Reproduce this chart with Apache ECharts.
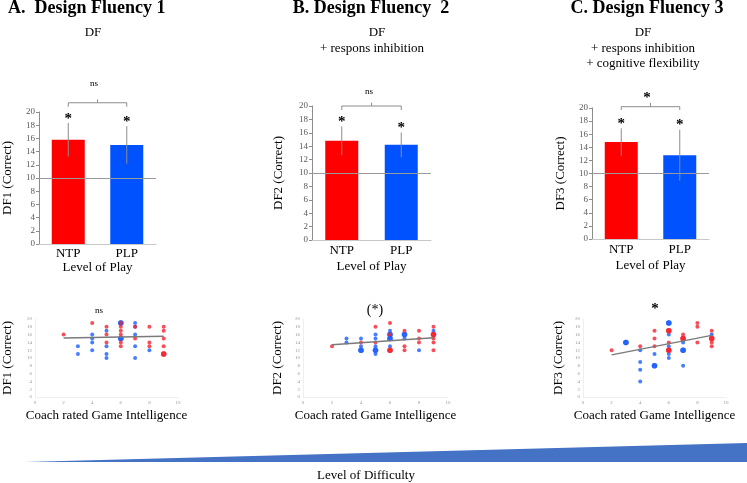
<!DOCTYPE html>
<html>
<head>
<meta charset="utf-8">
<script src="https://cdn.jsdelivr.net/npm/echarts@6/dist/echarts.min.js"></script>
<style>
  html, body { margin: 0; padding: 0; background: #fff; }
  #chart { width: 747px; height: 483px; }
</style>
</head>
<body>
<div id="chart"></div>
<script>
// --- data ---
const levels = ['NTP', 'PLP'];

const df1Mean = [15.8, 15.0];
const df1Sd = [2.55, 2.85];
const df2Mean = [14.8, 14.2];
const df2Sd = [2.15, 1.85];
const df3Mean = [14.8, 12.8];
const df3Sd = [2.1, 3.9];

// bracket: [level of bar, end tick, centre tick]
const df1Bracket = [21.4, 20.8, 21.9];
const df2Bracket = [20.0, 19.4, 20.5];
const df3Bracket = [20.2, 19.7, 20.8];

const yTicks = [0, 2, 4, 6, 8, 10, 12, 14, 16, 18, 20];
const xTicks = [0, 2, 4, 6, 8, 10];

// coach rated game intelligence vs score, red = NTP, blue = PLP
const df1Ntp = [[2,16],[4,19],[5,18],[5,16],[5,14],[6,19],[6,18],[6,17],[6,16],[6,14],[6,13],
  [7,18],[7,15],[8,18],[8,14],[8,13],[9,18],[9,17],[9,15],[9,13],[9,11],[9,11]];
const df1Plp = [[3,13],[3,11],[4,16],[4,15],[4,14],[4,12],[5,17],[5,13],[5,11],[5,10],[6,19],[6,19],
  [6,15],[6,15],[7,19],[7,18],[7,16],[7,13],[7,10],[8,12]];
const df2Ntp = [[2,13],[4,14],[5,18],[5,14],[6,19],[6,16],[6,12],[6,12],[7,17],[7,13],[7,12],
  [8,17],[8,15],[8,14],[9,18],[9,16],[9,16],[9,15],[9,14],[9,12]];
const df2Plp = [[3,15],[3,14],[4,15],[4,13],[4,12],[4,12],[5,16],[5,15],[5,13],[5,12],[5,12],[5,11],
  [6,17],[6,16],[6,16],[6,15],[6,15],[6,13],[7,16],[7,16],[7,15],[8,12],[9,17]];
const df3Ntp = [[2,12],[4,13],[5,17],[5,15],[5,13],[6,17],[6,17],[6,14],[6,12],[6,12],[7,16],[7,15],[7,15],
  [8,19],[8,18],[8,14],[9,17],[9,15],[9,15],[9,14],[9,13]];
const df3Plp = [[3,14],[3,14],[4,12],[4,9],[4,7],[4,4],[5,11],[5,8],[5,8],[6,19],[6,19],[6,16],[6,13],
  [6,12],[6,11],[6,10],[7,14],[7,12],[7,12],[7,8],[9,16]];

const df1Trend = [[2, 15.1], [9, 15.6]];
const df2Trend = [[2, 13.4], [9, 15.2]];
const df3Trend = [[2, 10.8], [9, 15.8]];

const difficulty = [[0, 0], [1, 1]];

// --- styles ---
const SERIF = '"Liberation Serif", "Times New Roman", serif';
const RED = '#ff0000';
const BLUE = '#0052ff';
const DOT_RED = '#f5222d';
const DOT_BLUE = '#1c5cff';

const chart = echarts.init(document.getElementById('chart'), null, { renderer: 'canvas' });

const grids = [
  { left: 38, top: 112, width: 118, height: 132 },
  { left: 312, top: 106, width: 119, height: 134 },
  { left: 592, top: 108, width: 117, height: 131 },
  { left: 34, top: 319, width: 144, height: 78 },
  { left: 303, top: 319, width: 145, height: 78 },
  { left: 583, top: 319, width: 143, height: 78 },
  { left: 25, top: 443, width: 722, height: 19 }
];

function barXAxis(gi, margin, nameGap) {
  return {
    type: 'category', gridIndex: gi, data: levels,
    axisLine: { lineStyle: { color: '#c8c8c8' } },
    axisTick: { show: false },
    axisLabel: { margin: margin, fontFamily: SERIF, fontSize: 13, color: '#000' },
    name: 'Level of Play', nameLocation: 'middle', nameGap: nameGap,
    nameTextStyle: { fontFamily: SERIF, fontSize: 13, color: '#000' }
  };
}

function barYAxis(gi, name, nameGap) {
  return {
    type: 'value', gridIndex: gi, min: 0, max: 20, interval: 2,
    axisLine: { show: true, lineStyle: { color: '#8c8c8c' } },
    axisTick: { show: true, length: 3, lineStyle: { color: '#8c8c8c' } },
    axisLabel: { margin: 4, fontFamily: SERIF, fontSize: 9, color: '#595959' },
    splitLine: { show: false },
    name: name, nameLocation: 'middle', nameGap: nameGap,
    nameTextStyle: { fontFamily: SERIF, fontSize: 13, color: '#000' }
  };
}

function scXAxis(gi) {
  return {
    type: 'value', gridIndex: gi, min: xTicks[0], max: xTicks[xTicks.length - 1], interval: 2,
    axisLine: { show: true, lineStyle: { color: '#efefef' } },
    axisTick: { show: false },
    axisLabel: { margin: 3, fontFamily: SERIF, fontSize: 5, color: '#999' },
    splitLine: { show: false },
    name: 'Coach rated Game Intelligence', nameLocation: 'middle', nameGap: 12,
    nameTextStyle: { fontFamily: SERIF, fontSize: 13, color: '#000' }
  };
}

function scYAxis(gi, name, nameGap) {
  return {
    type: 'value', gridIndex: gi, min: yTicks[0], max: yTicks[yTicks.length - 1], interval: 2,
    axisLine: { show: true, lineStyle: { color: '#efefef' } },
    axisTick: { show: false },
    axisLabel: { margin: 3, fontFamily: SERIF, fontSize: 5, color: '#999' },
    splitLine: { show: false },
    name: name, nameLocation: 'middle', nameGap: nameGap,
    nameTextStyle: { fontFamily: SERIF, fontSize: 13, color: '#000' }
  };
}

function barSeries(gi, mean) {
  return {
    type: 'bar', xAxisIndex: gi, yAxisIndex: gi, barWidth: 33,
    data: mean.map((v, i) => ({ value: v, itemStyle: { color: i === 0 ? RED : BLUE } })),
    markLine: {
      silent: true, symbol: 'none', label: { show: false },
      lineStyle: { color: '#9a9a9a', width: 1, type: 'solid' },
      data: [{ yAxis: 10 }]
    }
  };
}

// error bar with the star above it
function errorSeries(gi, mean, sd) {
  return {
    type: 'custom', xAxisIndex: gi, yAxisIndex: gi, z: 5,
    data: mean.map((m, i) => [i, m - sd[i], m + sd[i]]),
    renderItem: function (params, api) {
      const lo = api.coord([api.value(0), api.value(1)]);
      const hi = api.coord([api.value(0), api.value(2)]);
      return {
        type: 'group',
        children: [
          { type: 'line', shape: { x1: lo[0], y1: lo[1], x2: hi[0], y2: hi[1] },
            style: { stroke: '#8c8c8c', lineWidth: 1 } },
          { type: 'text', x: hi[0], y: hi[1] - 4,
            style: { text: '*', fontFamily: SERIF, fontSize: 15, fontWeight: 'bold', fill: '#000',
              align: 'center', verticalAlign: 'middle' } }
        ]
      };
    }
  };
}

function bracketSeries(gi, br) {
  return {
    type: 'custom', xAxisIndex: gi, yAxisIndex: gi, z: 5,
    data: [[0, 1, br[0], br[1], br[2]]],
    renderItem: function (params, api) {
      const a = api.coord([api.value(0), api.value(2)]);
      const b = api.coord([api.value(1), api.value(2)]);
      const ea = api.coord([api.value(0), api.value(3)]);
      const top = api.coord([api.value(0), api.value(4)]);
      const mx = (a[0] + b[0]) / 2;
      return {
        type: 'group',
        children: [
          { type: 'polyline', shape: { points: [[ea[0], ea[1]], a, b, [b[0], ea[1]]] },
            style: { stroke: '#8c8c8c', lineWidth: 1, fill: null } },
          { type: 'line', shape: { x1: mx, y1: a[1], x2: mx, y2: top[1] },
            style: { stroke: '#8c8c8c', lineWidth: 1 } }
        ]
      };
    }
  };
}

function dotSize(list) {
  return function (val) {
    const n = list.filter(p => p[0] === val[0] && p[1] === val[1]).length;
    return n > 1 ? 5.5 : 4;
  };
}

function dotSeries(gi, list, color) {
  return {
    type: 'scatter', xAxisIndex: gi, yAxisIndex: gi, data: list,
    symbol: 'circle', symbolSize: dotSize(list),
    itemStyle: { color: color }
  };
}

function trendSeries(gi, pts) {
  return {
    type: 'line', xAxisIndex: gi, yAxisIndex: gi, data: pts, symbol: 'none', z: 4,
    lineStyle: { color: '#7a7a7a', width: 1.5 }
  };
}

function label(text, x, y, size, opts) {
  return {
    type: 'text', x: x, y: y,
    style: Object.assign({
      text: text, fontFamily: SERIF, fontSize: size, fill: '#000',
      align: 'center', verticalAlign: 'middle'
    }, opts || {})
  };
}

const option = {
  animation: false,
  grid: grids,
  xAxis: [
    barXAxis(0, 3, 17), barXAxis(1, 4, 20), barXAxis(2, 4, 20),
    scXAxis(3), scXAxis(4), scXAxis(5),
    { type: 'value', gridIndex: 6, min: 0, max: 1, show: false }
  ],
  yAxis: [
    barYAxis(0, 'DF1 (Correct)', 25), barYAxis(1, 'DF2 (Correct)', 27), barYAxis(2, 'DF3 (Correct)', 25),
    scYAxis(3, 'DF1 (Correct)', 21), scYAxis(4, 'DF2 (Correct)', 19), scYAxis(5, 'DF3 (Correct)', 18),
    { type: 'value', gridIndex: 6, min: 0, max: 1, show: false }
  ],
  series: [
    barSeries(0, df1Mean), errorSeries(0, df1Mean, df1Sd), bracketSeries(0, df1Bracket),
    barSeries(1, df2Mean), errorSeries(1, df2Mean, df2Sd), bracketSeries(1, df2Bracket),
    barSeries(2, df3Mean), errorSeries(2, df3Mean, df3Sd), bracketSeries(2, df3Bracket),
    dotSeries(3, df1Plp, DOT_BLUE), dotSeries(3, df1Ntp, DOT_RED), trendSeries(3, df1Trend),
    dotSeries(4, df2Plp, DOT_BLUE), dotSeries(4, df2Ntp, DOT_RED), trendSeries(4, df2Trend),
    dotSeries(5, df3Plp, DOT_BLUE), dotSeries(5, df3Ntp, DOT_RED), trendSeries(5, df3Trend),
    {
      type: 'line', xAxisIndex: 6, yAxisIndex: 6, data: difficulty, symbol: 'none',
      lineStyle: { width: 0 }, areaStyle: { color: '#4472c4', opacity: 1 }
    }
  ],
  graphic: [
    label('A.  Design Fluency 1', 8, 8, 18, { fontWeight: 'bold', align: 'left' }),
    label('B. Design Fluency  2', 371, 8, 18, { fontWeight: 'bold' }),
    label('C. Design Fluency 3', 647, 8, 18, { fontWeight: 'bold' }),
    label('DF', 93, 33, 13),
    label('DF', 377, 33, 13),
    label('+ respons inhibition', 372, 49, 13),
    label('DF', 643, 33, 13),
    label('+ respons inhibition', 643, 49, 13),
    label('+ cognitive flexibility', 643, 64, 13),
    label('ns', 94, 84, 9),
    label('ns', 369, 92, 9),
    label('*', 647, 98, 15, { fontWeight: 'bold' }),
    label('ns', 99, 311, 9),
    label('(*)', 375, 310, 14),
    label('*', 655, 309, 15, { fontWeight: 'bold' }),
    label('Level of Difficulty', 366, 476, 13)
  ]
};

chart.setOption(option);
</script>
</body>
</html>
